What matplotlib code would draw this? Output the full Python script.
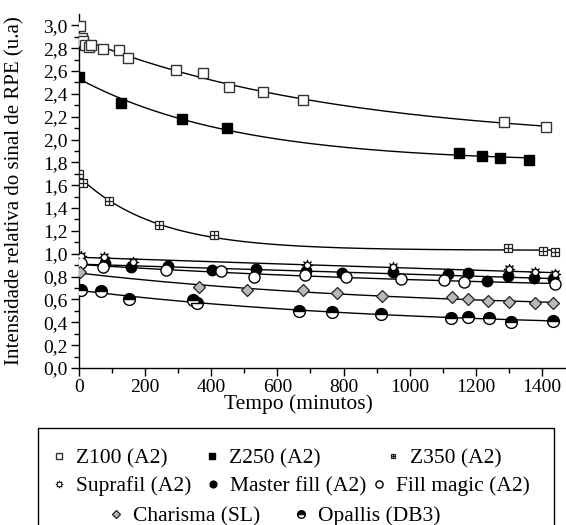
import numpy as np
import matplotlib
matplotlib.use("Agg")
import matplotlib.pyplot as plt
from matplotlib.patches import Rectangle
from matplotlib.ticker import MultipleLocator, FuncFormatter

plt.rcParams["font.family"] = ["Liberation Serif", "DejaVu Serif"]

# ============================================================
# Data (time in minutes, relative EPR signal)
# ============================================================
z100_t = [3, 8, 13, 18, 31, 36, 72, 120, 148, 293, 376, 455, 555, 676, 1285, 1412]
z100_v = [2.99, 2.89, 2.86, 2.83, 2.81, 2.83, 2.79, 2.78, 2.71, 2.61, 2.58, 2.46, 2.42, 2.35, 2.15, 2.11]

z250_t = [1, 127, 312, 447, 1150, 1218, 1272, 1362]
z250_v = [2.55, 2.32, 2.18, 2.10, 1.88, 1.86, 1.84, 1.82]

z350_t = [1, 11, 90, 243, 409, 1299, 1402, 1440]
z350_v = [1.70, 1.62, 1.46, 1.25, 1.16, 1.047, 1.026, 1.018]

supra_t = [5, 75, 164, 689, 949, 1302, 1378, 1440]
supra_v = [0.98, 0.97, 0.93, 0.90, 0.885, 0.866, 0.837, 0.82]

master_t = [79, 156, 268, 403, 535, 687, 795, 949, 1117, 1178, 1234, 1299, 1375, 1433]
master_v = [0.92, 0.88, 0.89, 0.857, 0.863, 0.85, 0.83, 0.84, 0.82, 0.828, 0.764, 0.805, 0.784, 0.78]

magic_t = [5, 74, 262, 430, 530, 685, 807, 973, 1105, 1165, 1440]
magic_v = [0.915, 0.885, 0.86, 0.845, 0.80, 0.815, 0.80, 0.78, 0.77, 0.755, 0.735]

charisma_t = [3, 363, 507, 676, 780, 916, 1127, 1176, 1236, 1302, 1380, 1435]
charisma_v = [0.84, 0.706, 0.683, 0.68, 0.66, 0.633, 0.624, 0.606, 0.589, 0.58, 0.566, 0.57]

opallis_t = [6, 66, 152, 346, 356, 664, 765, 913, 1126, 1178, 1239, 1306, 1435]
opallis_v = [0.68, 0.67, 0.60, 0.595, 0.57, 0.50, 0.49, 0.47, 0.44, 0.45, 0.435, 0.405, 0.414]

labels = ["Z100 (A2)", "Z250 (A2)", "Z350 (A2)",
          "Suprafil (A2)", "Master fill (A2)", "Fill magic (A2)",
          "Charisma (SL)", "Opallis (DB3)"]


# ============================================================
# Helpers
# ============================================================
def fit_decay(t, y):
    """Least squares fit of y = a*exp(-b*t) + c (grid over b)."""
    t = np.asarray(t, float)
    y = np.asarray(y, float)
    best = None
    for b in np.logspace(-5, -1.5, 400):
        A = np.column_stack([np.exp(-b * t), np.ones_like(t)])
        coef = np.linalg.lstsq(A, y, rcond=None)[0]
        err = np.sum((A @ coef - y) ** 2)
        if best is None or err < best[0]:
            best = (err, b, coef)
    _, b, (a, c) = best
    return lambda x: a * np.exp(-b * x) + c


def comma(v, pos):
    return f"{v:.1f}".replace(".", ",")


# ============================================================
# Figure
# ============================================================
fig = plt.figure(figsize=(5.66, 5.25), dpi=100)
ax = fig.add_axes([0.1396, 0.299, 0.8604, 0.674])

series = [
    (z100_t, z100_v, dict(marker="s", ms=7, mfc="white", mec="#333333", mew=1.0)),
    (z250_t, z250_v, dict(marker="s", ms=7, mfc="black", mec="black")),
    (z350_t, z350_v, dict(marker="s", ms=5.5, mfc="white", mec="#222222", mew=0.9)),
    (supra_t, supra_v, dict(marker=(8, 1, 0), ms=8, mfc="#333333", mec="black", mew=0.6)),
    (master_t, master_v, dict(marker="o", ms=7.5, mfc="black", mec="black")),
    (magic_t, magic_v, dict(marker="o", ms=8, mfc="white", mec="black", mew=1.0)),
    (charisma_t, charisma_v, dict(marker="D", ms=6.5, mfc="#b8b8b8", mec="#222222", mew=0.9)),
    (opallis_t, opallis_v, dict(marker="o", ms=8.5, fillstyle="top", mfc="black",
                                mfcalt="white", mec="black", mew=1.0)),
]

handles = []
for t, v, style in series:
    f = fit_decay(t, v)
    tt = np.linspace(0, max(t), 200)
    ax.plot(tt, f(tt), color="black", lw=1.0, zorder=2)
    h, = ax.plot(t, v, ls="none", zorder=3, **style)
    handles.append(h)

# extra glyph details: plus inside Z350 squares, white dot in Suprafil
hp, = ax.plot(z350_t, z350_v, ls="none", marker="+", ms=5.5, mec="#222222", mew=0.9, zorder=4)
hs, = ax.plot(supra_t, supra_v, ls="none", marker="o", ms=2.5, mfc="white", mec="white", zorder=4)
handles[2] = (handles[2], hp)
handles[3] = (handles[3], hs)

ax.set_xlim(0, 1473)
ax.set_ylim(0, 3.097)
ax.xaxis.set_major_locator(MultipleLocator(200))
ax.xaxis.set_minor_locator(MultipleLocator(100))
ax.yaxis.set_major_locator(MultipleLocator(0.2))
ax.yaxis.set_minor_locator(MultipleLocator(0.1))
ax.yaxis.set_major_formatter(FuncFormatter(comma))
ax.tick_params(which="major", length=6, width=1, labelsize=14, direction="out", pad=2)
ax.tick_params(which="minor", length=3.5, width=1, direction="out")
for s in ("top", "right"):
    ax.spines[s].set_visible(False)
for s in ("left", "bottom"):
    ax.spines[s].set_linewidth(1.0)

ax.set_xlabel("Tempo (minutos)", fontsize=15.5)
ax.xaxis.set_label_coords(0.45, -0.075)
ax.set_ylabel("Intensidade relativa do sinal de RPE (u.a)", fontsize=15)
ax.yaxis.set_label_coords(-0.112, 0.5)

# ============================================================
# Legend (framed box, three rows, last row centered)
# ============================================================
W, H = 566.0, 525.0
fig.add_artist(Rectangle((38 / W, -0.01), (554 - 38) / W, 0.01 + (H - 428) / H,
                         transform=fig.transFigure, fill=False, ec="black", lw=1.0))

legend_pos = [(56, 458), (209, 458), (390, 458),
              (56, 486), (210, 486), (376, 486),
              (113, 516), (298, 516)]
for h, lab, (mx, my) in zip(handles, labels, legend_pos):
    fig.legend([h], [lab], loc="center left",
               bbox_to_anchor=((mx - 7) / W, 1 - my / H),
               frameon=False, fontsize=15.5, markerscale=0.65,
               handlelength=0.9, handletextpad=0.35,
               borderpad=0, borderaxespad=0)

fig.savefig("out.png", dpi=100)
